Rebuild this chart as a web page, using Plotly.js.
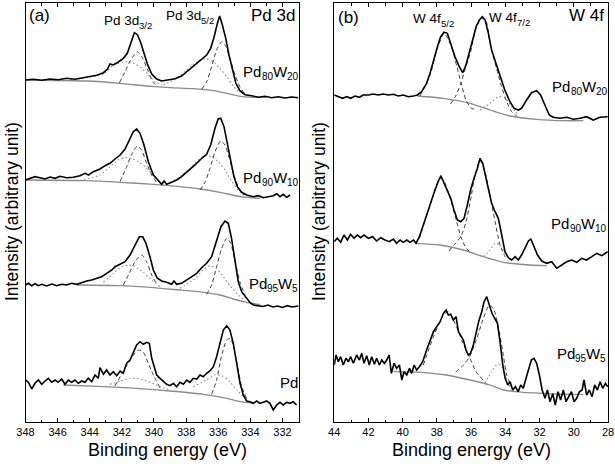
<!DOCTYPE html>
<html><head><meta charset="utf-8">
<script src="https://cdn.plot.ly/plotly-3.0.1.min.js"></script>
<style>html,body{margin:0;padding:0;background:#fff}#chart{width:615px;height:464px}</style>
</head><body><div id="chart"></div>
<script>
// ---------------- Panel (a): Pd 3d ----------------
// Pd80W20
const a_pd80_E = [348.0,347.51,346.99,346.47,345.96,345.44,344.92,344.40,343.98,343.57,343.15,342.90,342.74,342.53,342.22,341.91,341.66,341.45,341.22,341.03,340.82,340.62,340.41,340.14,339.83,339.52,339.11,338.69,338.28,337.96,337.65,337.34,337.03,336.72,336.47,336.26,336.05,335.91,335.74,335.53,335.33,335.12,334.90,334.65,334.33,333.92,333.50,333.09,332.67,332.26,331.84,331.43,331.01];
const a_pd80_I = [342,342.7,341.7,343,342.3,343.7,342.7,344.3,345.3,346.7,349.3,352.7,358,357,360,363.7,368.7,378.7,389.3,387.3,379.3,368.7,358,348,343,341,342,343.3,346,350.3,354,358.7,362.7,367,373.7,384.7,398.7,406,397,383.7,367,352,338.7,331.3,327.3,326.3,324.7,325.7,324.3,325.3,324,325,324.3];
const a_pd80_bgE = [348,344.19,342.12,340.46,339.0,337.55,336.30,335.47,334.64,333.81,332.98];
const a_pd80_bgI = [342,341,338.7,336,334.3,333.3,331.3,328.7,325.7,324.7,324.7];
const a_pd80_d32E = [342.15,341.80,341.45,341.03,340.70,340.35,340.04,339.83];
const a_pd80_d32I = [339.3,350.3,362,370.3,363.7,350.3,339.3,336.7];
const a_pd80_o32E = [345.23,343.15,342.53,342.0,341.59,341.18,340.76,340.35,339.94,339.52];
const a_pd80_o32I = [342,348,357,359.7,360.3,358,353.7,347,340.3,336.7];
const a_pd80_d52E = [337.03,336.72,336.41,336.10,335.78,335.51,335.27,334.95,334.64,334.33];
const a_pd80_d52I = [332.7,340.3,355.3,372,380.3,375.3,363.7,347,334.7,328];
const a_pd80_o52E = [339.41,338.59,337.96,337.45,337.03,336.72,336.30,335.89,335.47,335.06,334.64];
const a_pd80_o52I = [337,343.7,352,358.7,362.7,363,360.3,353.7,345.3,336,328.7];

// Pd90W10
const a_pd90_E = [348.0,347.72,347.41,347.10,346.79,346.47,346.16,345.85,345.44,345.02,344.61,344.29,344.08,343.77,343.36,343.05,342.74,342.42,342.11,341.80,341.53,341.29,341.08,340.87,340.62,340.35,340.04,339.73,339.52,339.37,339.21,338.90,338.59,338.28,337.96,337.65,337.34,337.03,336.72,336.47,336.20,336.0,335.85,335.64,335.43,335.22,335.02,334.81,334.54,334.23,333.81,333.50,333.19,332.88,332.57,332.36,332.15,331.95,331.74,331.53];
const a_pd90_I = [242,243.7,245.3,244.3,243,245,243.7,245.7,244.3,244.7,246.3,248.7,247,250.3,253,256.3,258.7,263,267,273,282,290.3,293,288.7,277,260.3,247,241,237.7,241,237.7,239.7,242,245.3,249.7,253.7,258.7,263.7,267.7,277,293.7,303,303.7,295.3,278.7,260.3,245.3,235.3,229.7,227,225.3,226.3,224.3,225.3,226.3,228.3,225.3,227.7,224.7,227];
const a_pd90_bgE = [348,344.19,342.12,340.04,338.38,337.13,335.89,334.85,334.02,333.40];
const a_pd90_bgI = [242,241.3,239.7,237.7,235.3,233,229.7,226,224.3,223.7];
const a_pd90_d32E = [342.11,341.70,341.35,341.04,340.77,340.46,340.14,339.83];
const a_pd90_d32I = [240.5,255.3,268.7,276,272,258.7,247,239.7];
const a_pd90_o32E = [344.6,343.36,342.74,342.22,341.80,341.39,340.97,340.56,340.14,339.62];
const a_pd90_o32I = [241.5,247,255.3,262,264.3,263.7,260.3,255.3,248.7,239.7];
const a_pd90_d52E = [337.13,336.82,336.51,336.20,335.85,335.58,335.31,335.02,334.71,334.40];
const a_pd90_d52I = [232,239.7,253.7,270.3,281,277,263.7,247,233.7,227];
const a_pd90_o52E = [339.21,338.38,337.76,337.24,336.82,336.41,336.0,335.58,335.17,334.75,334.40];
const a_pd90_o52I = [237.7,245.3,253.7,262,266,265.3,260.3,252,241,232,227];

// Pd95W5
const a_pd95_E = [348,347.82,347.61,347.41,347.20,346.99,346.68,346.37,346.06,345.75,345.44,345.13,344.81,344.50,344.19,343.88,343.57,343.26,342.95,342.63,342.42,342.11,341.80,341.49,341.18,340.91,340.70,340.50,340.25,340.04,339.79,339.52,339.21,338.90,338.75,338.59,338.28,337.96,337.65,337.34,337.03,336.72,336.41,336.10,335.83,335.58,335.37,335.17,334.96,334.75,334.54,334.23,334.0,333.8,333.5,333.2,332.9,332.6,332.3,332.0,331.7,331.4,331.0];
const a_pd95_I = [137,138.7,136.3,138.3,136.3,137.7,136,138,136.3,137.7,137,138.7,137.7,139.7,141,142,143.7,145.3,148.7,152,155.3,157.7,160.3,167,177,185.3,185.3,178.7,165.3,152,143.7,141,139.7,137.7,141,137.7,138.7,142,145.3,148.7,154.3,158.7,165.3,180.3,195.3,201,198.7,183.7,160.3,140.3,130.3,124,119,117,116.5,115.5,117,115,116,114.5,116.3,115,116];
const a_pd95_bgE = [344.81,342.11,340.04,338.38,336.93,335.89,335.06,334.23,333.40];
const a_pd95_bgI = [137,136.3,134.3,132,129.7,127,123,119.7,117.5];
const a_pd95_d32E = [341.91,341.59,341.18,340.76,340.46,340.14,339.83];
const a_pd95_d32I = [137,147,160.3,167,160.3,147,137.7];
const a_pd95_o32E = [343.15,342.53,342.01,341.59,341.18,340.66,340.14,339.62];
const a_pd95_o32I = [139.7,148.7,155.3,157,155.3,149.7,142,135.3];
const a_pd95_d52E = [336.72,336.41,336.10,335.78,335.47,335.22,334.95,334.64,334.33];
const a_pd95_d52I = [127.7,137,155.3,173.7,183.7,178.7,160.3,139.7,127];
const a_pd95_o52E = [338.38,337.55,336.93,336.51,336.10,335.68,335.27,334.75,334.33];
const a_pd95_o52I = [133.7,142,152,156.3,153,145.3,136.3,127,121];

// Pd
const a_pd_E = [348,347.82,347.61,347.41,347.20,346.99,346.78,346.58,346.37,346.16,345.96,345.75,345.54,345.33,345.13,344.92,344.71,344.50,344.30,344.09,343.88,343.67,343.47,343.36,343.15,342.95,342.74,342.53,342.32,342.11,341.91,341.70,341.49,341.28,341.08,340.87,340.66,340.46,340.29,340.14,340.0,339.83,339.62,339.42,339.21,339.0,338.79,338.59,338.38,338.17,337.96,337.76,337.55,337.34,337.13,336.93,336.72,336.51,336.30,336.10,335.89,335.68,335.47,335.27,335.06,334.85,334.64,334.44,334.23,334.02,333.81,333.60,333.40,333.19,332.98,332.78,332.57,332.36,332.15,331.95,331.74,331.53,331.33,331.12];
const a_pd_I = [42,39.7,33,38.7,42,37.7,41,43.7,39.7,42,39.7,43,37.7,42,39.7,42,38.7,41,39.7,43.7,40.3,47,43.7,54.3,47.7,52,47,50.3,46.3,51,48.7,58.7,62,70.3,77,80.3,77.7,79.7,78.7,63.7,55.3,47,43.7,41,37.7,36.3,38.7,35.3,39.7,37.7,42,39.7,43.7,43,47,45.3,48.7,51,55.3,65.3,80.3,92,96.3,92,78.7,58.7,38.7,27,21,20.3,18.7,21,18.7,19.7,21,18.7,12,17,19.7,17,19.7,18.7,20.3,17];
const a_pd_bgE = [345.64,343.15,341.08,339.0,336.93,335.47,334.64,333.81];
const a_pd_bgI = [37,35.3,33.7,31,27.7,23.7,20.3,18.7];
const a_pd_d32E = [342.43,342.11,341.70,341.28,340.97,340.66,340.35,340.04,339.62];
const a_pd_d32I = [36,45.3,56.3,67,72,69.7,58.7,47,34];
const a_pd_o32E = [342.74,342.11,341.49,340.87,340.25,339.62,339.0];
const a_pd_o32I = [37.7,41,43.7,43,39.7,35.3,32];
const a_pd_d52E = [336.41,336.10,335.78,335.47,335.27,335.06,334.81,334.54,334.23];
const a_pd_d52I = [27.7,42,67,82,83.7,77,57,35.3,23.7];
const a_pd_o52E = [337.55,336.72,336.20,335.78,335.37,334.85,334.33];
const a_pd_o52I = [35.3,42,47,46.3,42,32,23.7];

// ---------------- Panel (b): W 4f ----------------
// Pd80W20
const b_pd80_E = [44.0,43.76,43.51,43.27,43.04,42.78,42.53,42.30,42.0,41.71,41.42,41.13,40.84,40.54,40.25,39.96,39.67,39.37,39.14,38.89,38.60,38.40,38.20,37.97,37.78,37.58,37.39,37.19,36.94,36.69,36.49,36.30,36.10,35.91,35.71,35.52,35.34,35.18,34.99,34.80,34.55,34.31,34.03,33.73,33.49,33.24,33.05,32.76,32.47,32.17,31.94,31.69,31.43,31.20,30.81,30.41,30.03,29.63,29.25,28.86,28.47,28.02];
const b_pd80_I = [327,325.3,323.7,325.3,323.7,326,324.7,327,327,328,327,328,327,327.7,326,327,325.3,326,327,330.3,338.7,348.7,362,375.3,385.3,389.7,388.7,378.7,365.3,355.3,349.3,357,368.7,382,395.3,402,405.3,402,388.7,372,358.7,347,332,320.3,313.7,312,313.7,322,329.3,331.3,327,317,307,304.7,303.7,304.7,302.7,303.7,305.3,302,304.7,305.3];
const b_pd80_bgE = [39.14,37.62,36.06,34.89,33.73,32.17,30.61,29.44];
const b_pd80_bgI = [326,323.7,318.7,312,306,302.7,301.3,301.3];
const b_pd80_d52E = [38.99,38.40,37.97,37.58,37.19,36.84,36.59,36.30,36.00,35.67];
const b_pd80_d52I = [326,347,373.7,388.7,377,356,339,322,314,312];
const b_pd80_d72E = [37.20,36.90,36.59,36.35,36.06,35.71,35.38,35.13,34.86,34.51,34.22,33.92,33.63,33.34];
const b_pd80_d72I = [318,326,339,353,368,393.7,403.7,401.3,375.3,353.7,335.3,320.3,310.3,306];
const b_pd80_oE = [35.48,34.89,34.40,34.01,33.63,33.24];
const b_pd80_oI = [312,318.7,325.3,323.7,315.3,307];

// Pd90W10
const b_pd90_E = [44.0,43.82,43.62,43.43,43.23,43.04,42.84,42.65,42.45,42.26,42.0,41.75,41.52,41.28,41.03,40.78,40.54,40.35,40.15,39.96,39.76,39.57,39.37,39.22,39.02,38.83,38.60,38.36,38.11,37.91,37.76,37.58,37.39,37.19,37.0,36.80,36.61,36.41,36.22,36.03,35.83,35.63,35.48,35.32,35.17,34.99,34.80,34.60,34.41,34.21,34.02,33.82,33.63,33.43,33.24,33.05,32.85,32.65,32.51,32.32,32.12,31.87,31.58,31.29,31.0,30.70,30.41,30.12,29.83,29.54,29.25,28.95,28.66,28.37,28.02];
const b_pd90_I = [180.3,183.7,179.7,187,182,187.7,183.7,187,184.3,187,183.7,185.3,181,184.3,182,180.3,183,178.7,182,179.7,182,179.7,182,178.7,185.3,195.3,207,218.7,232,241,246.3,238.7,232,223.7,212,202,200.3,203.7,217,232,243.7,253.7,263.7,258.7,247,233.7,218.7,210.3,203.7,187,170.3,164.3,162,165.3,162,167,173.3,181,183,175.3,167,161,158.7,160.3,153.7,157,160.3,162,159.7,163.7,162,165.3,168.7,166.3,170.3];
const b_pd90_bgE = [39.22,37.82,36.45,35.28,34.12,32.55,31.58];
const b_pd90_bgI = [178.7,177,172,165.3,159.7,157,156.3];
const b_pd90_d52E = [39.02,38.40,37.82,37.58,37.19,36.84,36.60,36.30,36.00];
const b_pd90_d52I = [183.7,217,243.7,241,222,200,185.3,174,169];
const b_pd90_d72E = [37.30,37.00,36.60,36.30,36.00,35.83,35.48,35.19,34.90,34.60,34.31,34.02];
const b_pd90_d72I = [171,177,185.3,200,225,242,262,250.3,227,200.3,177,165.3];
const b_pd90_oE = [35.28,34.89,34.60,34.31,34.02,33.73];
const b_pd90_oI = [165.3,172,178.7,177,168.7,162];

// Pd95W5
const b_pd95_E = [44.0,43.89,43.76,43.62,43.47,43.31,43.17,43.04,42.88,42.69,42.53,42.39,42.26,42.10,41.95,41.81,41.65,41.52,41.36,41.22,41.07,40.93,40.79,40.66,40.50,40.35,40.19,40.05,39.92,39.76,39.60,39.47,39.33,39.18,39.02,38.83,38.60,38.40,38.20,38.01,37.81,37.62,37.46,37.33,37.19,37.04,36.88,36.74,36.61,36.45,36.30,36.16,36.03,35.87,35.71,35.56,35.38,35.24,35.09,34.93,34.78,34.62,34.46,34.31,34.15,34.01,33.86,33.72,33.57,33.41,33.25,33.10,32.95,32.79,32.63,32.48,32.32,32.17,32.01,31.85,31.68,31.54,31.39,31.23,31.08,30.92,30.77,30.61,30.45,30.30,30.14,29.98,29.83,29.67,29.51,29.40,29.25,29.09,28.93,28.78,28.62,28.46,28.31,28.15,28.02];
const b_pd95_I = [57,67,60.3,65.3,57,63.7,60.3,65.3,58.7,67,62,68.7,58.7,66.3,57,65.3,57.7,63.7,57,62,58.7,62,67,48.7,58.7,53.7,57,42,50.3,47,53.7,48.7,57,52,55.3,60.3,72,80.3,90.3,95.3,100.3,108.7,112,107,107.7,102,105.3,90.3,87,82,72,67,68.7,77,88.7,100.3,110.3,120.3,125.3,115.3,108.7,103.7,98.7,80.3,57,43.7,37,40.3,32,35.3,30.3,37,33.7,43.7,53.7,62,63.7,58.7,47,32,23.7,32,20.3,28.3,17,30.3,22,32,20.3,25,30.3,20.3,23.7,30.3,32,42,27,32,25.3,37,32,40.3,33.7,38.7,35.3];
const b_pd95_bgE = [40.54,38.98,37.42,36.06,34.89,34.11,32.95,31.78,30.61,29.44];
const b_pd95_bgI = [50.3,49.7,47,42,37,32,29.7,28.7,27.7,27.7];
const b_pd95_d52E = [38.79,38.20,37.62,37.33,36.94,36.50,36.10,35.70,35.30];
const b_pd95_d52I = [57,85.3,107,110.3,98.7,80,65,50,42];
const b_pd95_d72E = [36.90,36.50,36.10,35.70,35.28,34.93,34.66,34.41,34.15,33.92,33.63];
const b_pd95_d72I = [50,56,65,82,103.7,117,112,95.3,70.3,47,35.3];
const b_pd95_oE = [35.19,34.80,34.51,34.27,34.01,33.73];
const b_pd95_oI = [38.7,50.3,57,57,47,35.3];

// Labels: [text, isSubscript]
const lab_pd80 = [['Pd', 0], ['80', 1], ['W', 0], ['20', 1]];
const lab_pd90 = [['Pd', 0], ['90', 1], ['W', 0], ['10', 1]];
const lab_pd95 = [['Pd', 0], ['95', 1], ['W', 0], ['5', 1]];
const lab_pd = [['Pd', 0]];
const lab_pd32 = [['Pd 3d', 0], ['3/2', 1]];
const lab_pd52 = [['Pd 3d', 0], ['5/2', 1]];
const lab_w52 = [['W 4f', 0], ['5/2', 1]];
const lab_w72 = [['W 4f', 0], ['7/2', 1]];

// ---------------- Figure ----------------
const W = 615, H = 464;
const fx = v => v / W, fy = v => (H - v) / H;
const FONT = 'Liberation Sans, Arial, Helvetica, sans-serif';

function tr(x, y, xa, ya, color, width, dash) {
  return {type: 'scatter', mode: 'lines', x: x, y: y, xaxis: xa, yaxis: ya,
    line: {color: color, width: width, dash: dash || 'solid', shape: 'spline', smoothing: 0.6},
    hoverinfo: 'skip', showlegend: false};
}
const BG = '#8c8c8c', DASH = '#3a3a3a', DOT = '#8a8a8a';
const DSTY = '4px,3px', OSTY = '1.5px,2.5px';

const traces = [];
function spectrum(xa, ya, E, I, bgE, bgI, dashed, dotted) {
  traces.push(tr(bgE, bgI, xa, ya, BG, 1.3));
  dotted.forEach(d => traces.push(tr(d[0], d[1], xa, ya, DOT, 1.1, OSTY)));
  dashed.forEach(d => traces.push(tr(d[0], d[1], xa, ya, DASH, 1.0, DSTY)));
  const t = tr(E, I, xa, ya, '#000', 1.6);
  t.line.shape = 'linear';
  traces.push(t);
}
spectrum('x', 'y', a_pd80_E, a_pd80_I, a_pd80_bgE, a_pd80_bgI,
  [[a_pd80_d32E, a_pd80_d32I], [a_pd80_d52E, a_pd80_d52I]], [[a_pd80_o32E, a_pd80_o32I], [a_pd80_o52E, a_pd80_o52I]]);
spectrum('x', 'y', a_pd90_E, a_pd90_I, a_pd90_bgE, a_pd90_bgI,
  [[a_pd90_d32E, a_pd90_d32I], [a_pd90_d52E, a_pd90_d52I]], [[a_pd90_o32E, a_pd90_o32I], [a_pd90_o52E, a_pd90_o52I]]);
spectrum('x', 'y', a_pd95_E, a_pd95_I, a_pd95_bgE, a_pd95_bgI,
  [[a_pd95_d32E, a_pd95_d32I], [a_pd95_d52E, a_pd95_d52I]], [[a_pd95_o32E, a_pd95_o32I], [a_pd95_o52E, a_pd95_o52I]]);
spectrum('x', 'y', a_pd_E, a_pd_I, a_pd_bgE, a_pd_bgI,
  [[a_pd_d32E, a_pd_d32I], [a_pd_d52E, a_pd_d52I]], [[a_pd_o32E, a_pd_o32I], [a_pd_o52E, a_pd_o52I]]);
spectrum('x2', 'y2', b_pd80_E, b_pd80_I, b_pd80_bgE, b_pd80_bgI,
  [[b_pd80_d52E, b_pd80_d52I], [b_pd80_d72E, b_pd80_d72I]], [[b_pd80_oE, b_pd80_oI]]);
spectrum('x2', 'y2', b_pd90_E, b_pd90_I, b_pd90_bgE, b_pd90_bgI,
  [[b_pd90_d52E, b_pd90_d52I], [b_pd90_d72E, b_pd90_d72I]], [[b_pd90_oE, b_pd90_oI]]);
spectrum('x2', 'y2', b_pd95_E, b_pd95_I, b_pd95_bgE, b_pd95_bgI,
  [[b_pd95_d52E, b_pd95_d52I], [b_pd95_d72E, b_pd95_d72I]], [[b_pd95_oE, b_pd95_oI]]);

function xax(range, l, r, anchor) {
  return {range: range, domain: [fx(l), fx(r)], anchor: anchor, showgrid: false, zeroline: false,
    showline: true, linecolor: '#000', linewidth: 1, mirror: 'ticks',
    ticks: 'inside', ticklen: 4, tickwidth: 1, tickcolor: '#000', dtick: 2, tick0: 0,
    minor: {ticks: 'inside', ticklen: 2.5, dtick: 1, tickcolor: '#000', showgrid: false},
    tickfont: {family: FONT, size: 11, color: '#000'}, fixedrange: true};
}
function yax(anchor) {
  return {range: [0, 419], domain: [fy(422), fy(3)], anchor: anchor, showgrid: false, zeroline: false,
    showline: true, linecolor: '#000', linewidth: 1, mirror: true, ticks: '', showticklabels: false, fixedrange: true};
}

function ann(text, x, y, size, xanchor, extra) {
  return Object.assign({text: text, x: fx(x), y: fy(y), xref: 'paper', yref: 'paper',
    xanchor: xanchor || 'center', yanchor: 'middle', showarrow: false, borderpad: 0,
    font: {family: FONT, size: size, color: '#000'}}, extra || {});
}

// text with subscripts, laid out piece by piece using measured widths
const ctx = document.createElement('canvas').getContext('2d');
function textW(t, size) { ctx.font = size + 'px "Liberation Sans", Arial, sans-serif'; return ctx.measureText(t).width; }
function rich(parts, x, y, size, subSize, anchor) {
  const ws = parts.map(p => textW(p[0], p[1] ? subSize : size));
  const total = ws.reduce((a, b) => a + b, 0);
  let cur = anchor === 'right' ? x - total : x;
  const out = [];
  parts.forEach((p, i) => {
    out.push(ann(p[0], cur, p[1] ? y + 5 : y, p[1] ? subSize : size, 'left'));
    cur += ws[i];
  });
  return out;
}

const annotations = [
  ann('(a)', 28, 16, 17, 'left'),
  ann('Pd 3d', 296, 16, 17, 'right'),
  ann('(b)', 337, 17, 17, 'left'),
  ann('W 4f', 605, 16, 17, 'right'),
  ann('Binding energy (eV)', 167, 450, 18, 'center'),
  ann('Binding energy (eV)', 471, 450, 18, 'center'),
  ann('Intensity (arbitrary unit)', 12, 212, 17.5, 'center', {textangle: -90}),
  ann('Intensity (arbitrary unit)', 319, 212, 17.5, 'center', {textangle: -90})
].concat(
  rich(lab_pd32, 103, 20, 13.5, 9.5, 'left'),
  rich(lab_pd52, 165, 15, 13.5, 9.5, 'left'),
  rich(lab_w52, 412, 19, 13.5, 9.5, 'left'),
  rich(lab_w72, 488, 17, 13.5, 9.5, 'left'),
  rich(lab_pd80, 297, 71.5, 15, 10, 'right'),
  rich(lab_pd90, 297, 177, 15, 10, 'right'),
  rich(lab_pd95, 297, 283.5, 15, 10, 'right'),
  rich(lab_pd, 297, 382.5, 15, 10, 'right'),
  rich(lab_pd80, 606, 86.5, 15, 10, 'right'),
  rich(lab_pd90, 605, 223, 15, 10, 'right'),
  rich(lab_pd95, 605, 353.5, 15, 10, 'right')
);

const layout = {
  width: W, height: H, margin: {l: 0, r: 0, t: 0, b: 0},
  paper_bgcolor: '#fff', plot_bgcolor: '#fff', showlegend: false,
  font: {family: FONT, color: '#000'},
  xaxis: xax([348, 331], 25.5, 298.5, 'y'),
  yaxis: yax('x'),
  xaxis2: xax([44, 28], 334.2, 608, 'y2'),
  yaxis2: yax('x2'),
  annotations: annotations
};

Plotly.newPlot('chart', traces, layout, {displayModeBar: false, staticPlot: true});
</script>
</body></html>
